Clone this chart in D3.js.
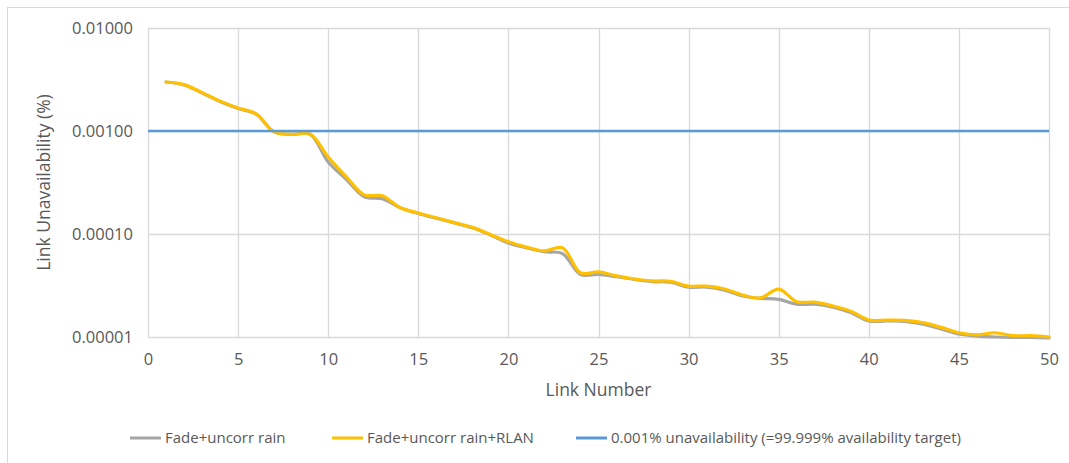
<!DOCTYPE html>
<html>
<head>
<meta charset="utf-8">
<script src="https://cdn.jsdelivr.net/npm/d3@7"></script>
<style>
  html, body { margin: 0; padding: 0; background: #fff; }
  svg { display: block; font-family: "Open Sans", "Noto Sans", sans-serif; }
</style>
</head>
<body>
<svg id="chart" width="1069" height="463"></svg>
<script>
// ---- data ----
const linkNumbers = [1,2,3,4,5,6,7,8,9,10,11,12,13,14,15,16,17,18,19,20,21,22,23,24,25,
  26,27,28,29,30,31,32,33,34,35,36,37,38,39,40,41,42,43,44,45,46,47,48,49,50];
const fadeUncorrRain = [
  0.00299, 0.00280, 0.00234, 0.00193, 0.00165, 0.00146, 0.00098, 0.00093, 0.00093, 0.00050,
  0.00034, 0.00023, 0.00022, 0.00018, 0.000158, 0.000142, 0.000128, 0.000115, 0.000098, 0.000082,
  0.0000735, 0.0000672, 0.0000645, 0.0000405, 0.0000405, 0.0000385, 0.0000362, 0.0000345, 0.0000340, 0.0000305,
  0.0000305, 0.0000285, 0.0000250, 0.0000237, 0.0000232, 0.0000208, 0.0000208, 0.0000195, 0.0000173, 0.0000143,
  0.0000143, 0.0000142, 0.0000133, 0.0000120, 0.0000107, 0.0000102, 0.0000100, 0.0000099, 0.0000099, 0.0000098
];
const fadeUncorrRainRLAN = [
  0.00299, 0.00282, 0.00236, 0.00195, 0.00167, 0.00147, 0.00098, 0.00093, 0.00093, 0.00056,
  0.00036, 0.00024, 0.000235, 0.00018, 0.000160, 0.000144, 0.000129, 0.000116, 0.000099, 0.000084,
  0.0000745, 0.0000685, 0.0000735, 0.0000420, 0.0000428, 0.0000392, 0.0000366, 0.0000350, 0.0000348, 0.0000312,
  0.0000312, 0.0000292, 0.0000256, 0.0000240, 0.0000292, 0.0000220, 0.0000218, 0.0000200, 0.0000178, 0.0000146,
  0.0000146, 0.0000145, 0.0000138, 0.0000124, 0.0000110, 0.0000105, 0.0000110, 0.0000103, 0.0000103, 0.0000100
];
const targetValue = 0.001; // 0.001 %
const xTicks = [0, 5, 10, 15, 20, 25, 30, 35, 40, 45, 50];
const yTicks = [0.00001, 0.0001, 0.001, 0.01];
const yTickLabels = ["0.00001", "0.00010", "0.00100", "0.01000"];
const seriesNames = ["Fade+uncorr rain", "Fade+uncorr rain+RLAN", "0.001% unavailability (=99.999% availability target)"];
const seriesColors = ["#A5A5A5", "#FFC000", "#5B9BD5"];

(function () {
// ---- layout ----
const svg = d3.select("#chart");
const pl = 148, pr = 1049, pt = 28, pb = 337;
const x = d3.scaleLinear().domain([0, 50]).range([pl, pr]);
const y = d3.scaleLog().domain([0.00001, 0.01]).range([pb, pt]);

// outer frame (left & top visible)
svg.append("line").attr("x1", 7.5).attr("x2", 7.5).attr("y1", 7).attr("y2", 463).attr("stroke", "#D9D9D9");
svg.append("line").attr("x1", 7).attr("x2", 1069).attr("y1", 7.5).attr("y2", 7.5).attr("stroke", "#D9D9D9");

// gridlines
const grid = svg.append("g");
grid.selectAll(".vg").data(xTicks).enter().append("line")
  .attr("x1", d => Math.round(x(d)) + 0.5).attr("x2", d => Math.round(x(d)) + 0.5)
  .attr("y1", pt).attr("y2", pb)
  .attr("stroke", "#D9D9D9").attr("stroke-width", 1.3);
grid.selectAll(".hg").data(yTicks).enter().append("line")
  .attr("x1", pl).attr("x2", pr)
  .attr("y1", d => Math.round(y(d)) + 0.5).attr("y2", d => Math.round(y(d)) + 0.5)
  .attr("stroke", "#D9D9D9").attr("stroke-width", 1.3);

// axes (labels only)
const yAxis = d3.axisLeft(y).tickValues(yTicks).tickSize(0).tickPadding(15)
  .tickFormat((d, i) => yTickLabels[i]);
const gy = svg.append("g").attr("transform", `translate(${pl},0)`).call(yAxis);
gy.select(".domain").remove();
gy.selectAll("text").attr("fill", "#595959").style("font-size", "16.5px").style("font-family", "'Open Sans', sans-serif");

const xAxis = d3.axisBottom(x).tickValues(xTicks).tickSize(0).tickPadding(16);
const gx = svg.append("g").attr("transform", `translate(0,${pb})`).call(xAxis);
gx.select(".domain").remove();
gx.selectAll("text").attr("fill", "#595959").style("font-size", "16.5px").style("font-family", "'Open Sans', sans-serif");

// axis titles
svg.append("text").attr("x", (pl + pr) / 2).attr("y", 396)
  .attr("text-anchor", "middle").attr("fill", "#595959")
  .style("font-size", "17.5px").text("Link Number");
svg.append("text").attr("transform", `translate(50,${(pt + pb) / 2}) rotate(-90)`)
  .attr("text-anchor", "middle").attr("fill", "#595959")
  .style("font-size", "17.5px").text("Link Unavailability (%)");

// lines
const line = d3.line().x(d => x(d[0])).y(d => y(d[1])).curve(d3.curveCatmullRom.alpha(0.5));
svg.append("path").datum(linkNumbers.map((n, i) => [n, fadeUncorrRain[i]]))
  .attr("d", line).attr("fill", "none").attr("stroke", seriesColors[0]).attr("stroke-width", 3.2)
  .attr("stroke-linejoin", "round").attr("stroke-linecap", "round");
svg.append("path").datum(linkNumbers.map((n, i) => [n, fadeUncorrRainRLAN[i]]))
  .attr("d", line).attr("fill", "none").attr("stroke", seriesColors[1]).attr("stroke-width", 3.2)
  .attr("stroke-linejoin", "round").attr("stroke-linecap", "round");
svg.append("path").datum([[0, targetValue], [50, targetValue]])
  .attr("d", d3.line().x(d => x(d[0])).y(d => y(d[1])))
  .attr("fill", "none").attr("stroke", seriesColors[2]).attr("stroke-width", 2.5);

// legend
const legendX = [130, 332, 576];
const lg = svg.append("g");
seriesNames.forEach((name, i) => {
  lg.append("line").attr("x1", legendX[i]).attr("x2", legendX[i] + 31)
    .attr("y1", 438).attr("y2", 438).attr("stroke", seriesColors[i]).attr("stroke-width", 3);
  lg.append("text").attr("x", legendX[i] + 35).attr("y", 443)
    .attr("fill", "#595959").style("font-size", "15px").text(name);
});
})();
</script>
</body>
</html>
